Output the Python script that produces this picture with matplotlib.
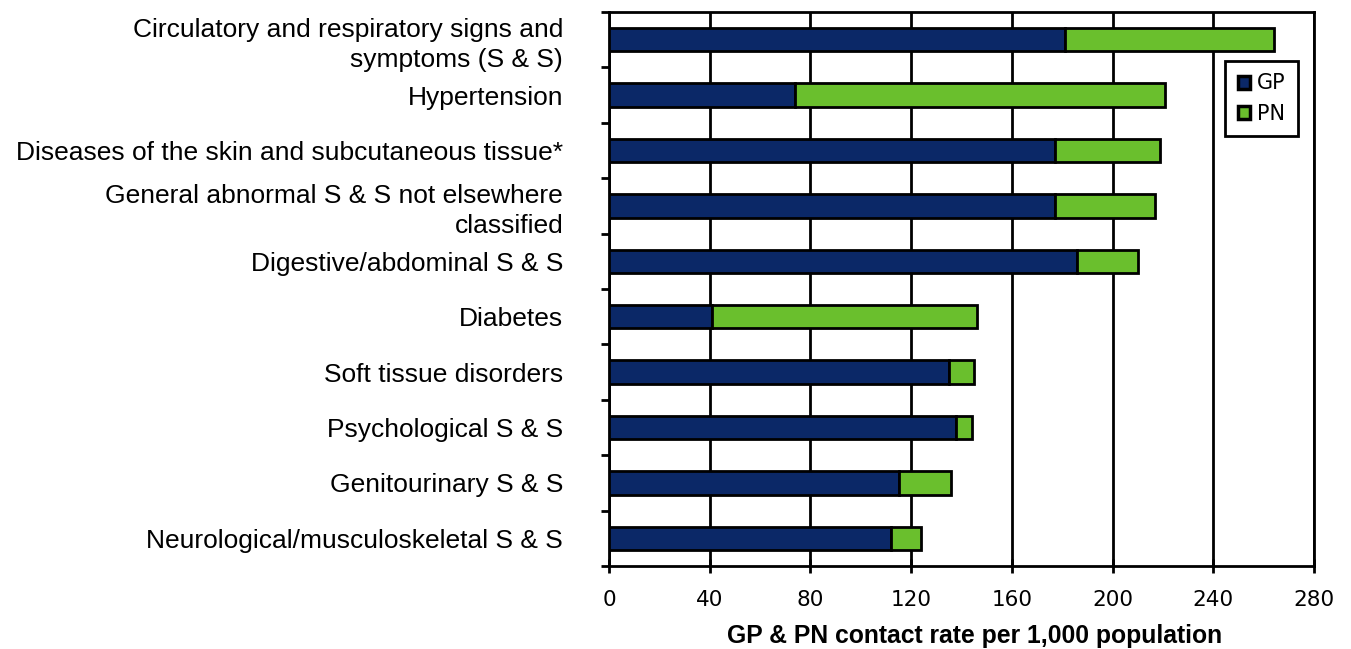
import matplotlib
matplotlib.use("Agg")
import matplotlib.pyplot as plt
import numpy as np
from matplotlib.ticker import FixedLocator

categories = [
    "Circulatory and respiratory signs and\nsymptoms (S & S)",
    "Hypertension",
    "Diseases of the skin and subcutaneous tissue*",
    "General abnormal S & S not elsewhere\nclassified",
    "Digestive/abdominal S & S",
    "Diabetes",
    "Soft tissue disorders",
    "Psychological S & S",
    "Genitourinary S & S",
    "Neurological/musculoskeletal S & S",
]
gp = [181, 74, 177, 177, 186, 41, 135, 138, 115, 112]
total = [264, 221, 219, 217, 210, 146, 145, 144, 136, 124]
pn = [t - g for t, g in zip(total, gp)]
xticks = [0, 40, 80, 120, 160, 200, 240, 280]

plt.rcParams['font.family'] = ['Liberation Sans', 'DejaVu Sans']

fig = plt.figure(figsize=(13.51, 6.49), dpi=100)
ax = fig.add_axes([609/1351, 1 - 566/649, 705/1351, 554/649])

n = len(categories)
y = np.arange(n)
h = 0.42
ax.barh(y, gp, height=h, color='#0b2867', edgecolor='black', linewidth=2, label='GP', zorder=3)
ax.barh(y, pn, left=gp, height=h, color='#6abf2d', edgecolor='black', linewidth=2, label='PN', zorder=3)

ax.set_xlim(0, 280)
ax.set_ylim(n - 0.5, -0.5)
ax.set_xticks(xticks)
ax.set_xticklabels([str(v) for v in xticks], fontsize=15.5, family='DejaVu Sans')
ax.tick_params(axis='x', direction='inout', length=10, width=2, pad=12)
ax.xaxis.grid(True, color='black', linewidth=2, zorder=0)
ax.set_axisbelow(True)

ax.set_yticks(y)
ax.set_yticklabels(categories, fontsize=19, ha='right')
ax.tick_params(axis='y', which='major', length=0, pad=33)
ax.yaxis.set_minor_locator(FixedLocator(np.arange(-0.5, n, 1.0)))
ax.tick_params(axis='y', which='minor', direction='out', length=6, width=2)
for lab in ax.get_yticklabels():
    lab.set_multialignment('right')
    lab.set_linespacing(1.28)

for s in ax.spines.values():
    s.set_linewidth(2)
    s.set_color('black')

ax.set_xlabel("GP & PN contact rate per 1,000 population", fontsize=17.8, fontweight='bold',
              labelpad=11)
ax.xaxis.set_label_coords(0.519, -0.105)

leg = ax.legend(loc='upper right', bbox_to_anchor=(0.977, 0.9116),
                prop={'family': 'DejaVu Sans', 'size': 15},
                frameon=True, fancybox=False, edgecolor='black', framealpha=1,
                handlelength=0.6, handleheight=0.6, handletextpad=0.3,
                borderpad=0.6, labelspacing=0.5, borderaxespad=0)
leg.get_frame().set_linewidth(2)
for p in leg.get_patches():
    p.set_linewidth(2.5)

fig.savefig("out.png", dpi=100)
